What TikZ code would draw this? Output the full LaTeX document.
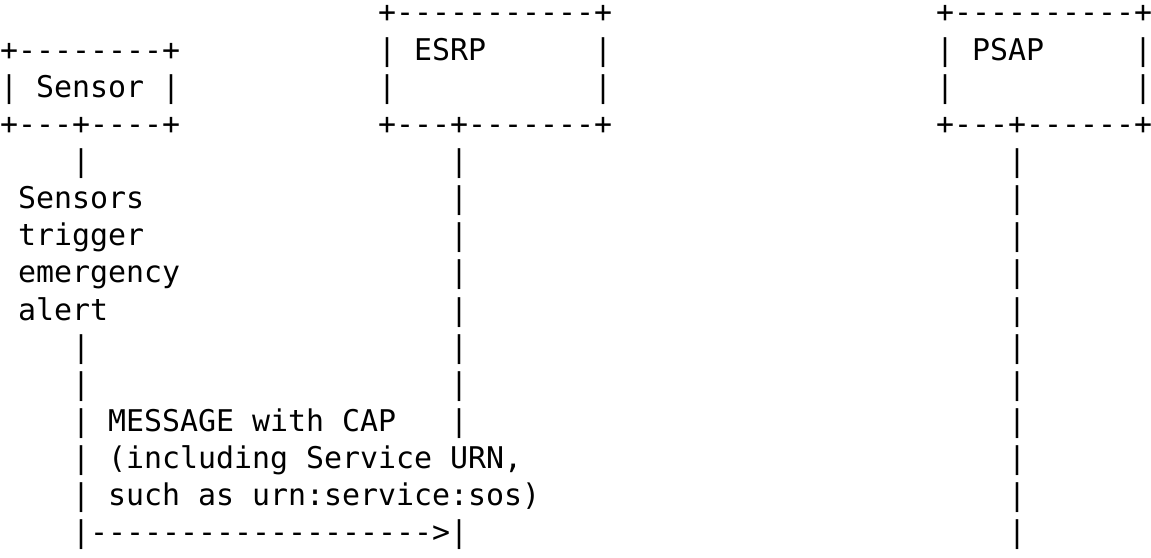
\documentclass[tikz,border=0pt]{standalone}
\usepackage{fontspec}
\setmonofont{DejaVu Sans Mono}
\tikzset{ascii/.style={anchor=base west, inner sep=0pt, outer sep=0pt,
            font=\fontsize{22.43pt}{27.85pt}\ttfamily}}

\begin{document}
\begin{tikzpicture}[x=13.5pt, y=-27.85pt]
        \useasboundingbox (0,-0.619) rectangle (63.944,14.381);

        \node[ascii] (esrpTop) at (21,0) {+-----------+};
        \node[ascii] (psapTop) at (52,0) {+----------+};

        \node[ascii] (sensorTop) at (0,1) {+--------+};
        \node[ascii] (esrpL1) at (21,1) {|};
        \node[ascii] (esrp) at (23,1) {ESRP};
        \node[ascii] (esrpR1) at (33,1) {|};
        \node[ascii] (psapL1) at (52,1) {|};
        \node[ascii] (psap) at (54,1) {PSAP};
        \node[ascii] (psapR1) at (63,1) {|};

        \node[ascii] (sensorL) at (0,2) {|};
        \node[ascii] (sensor) at (2,2) {Sensor};
        \node[ascii] (sensorR) at (9,2) {|};
        \node[ascii] (esrpL2) at (21,2) {|};
        \node[ascii] (esrpR2) at (33,2) {|};
        \node[ascii] (psapL2) at (52,2) {|};
        \node[ascii] (psapR2) at (63,2) {|};

        \node[ascii] (sensorBot) at (0,3) {+---+----+};
        \node[ascii] (esrpBot) at (21,3) {+---+-------+};
        \node[ascii] (psapBot) at (52,3) {+---+------+};

        \foreach \r in {4,9,10,11,12,13}
            \node[ascii] (sensorLine\r) at (4,\r) {|};
        \foreach \r in {4,...,11}
            \node[ascii] (esrpLine\r) at (25,\r) {|};
        \foreach \r in {4,...,14}
            \node[ascii] (psapLine\r) at (56,\r) {|};

        \node[ascii] (trigger1) at (1,5) {Sensors};
        \node[ascii] (trigger2) at (1,6) {trigger};
        \node[ascii] (trigger3) at (1,7) {emergency};
        \node[ascii] (trigger4) at (1,8) {alert};

        \node[ascii] (msg1) at (6,11) {MESSAGE with CAP};
        \node[ascii] (msg2) at (6,12) {(including Service URN,};
        \node[ascii] (msg3) at (6,13) {such as urn:service:sos)};
        \node[ascii] (msgArrow) at (4,14) {|------------------->|};
    \end{tikzpicture}
\end{document}
